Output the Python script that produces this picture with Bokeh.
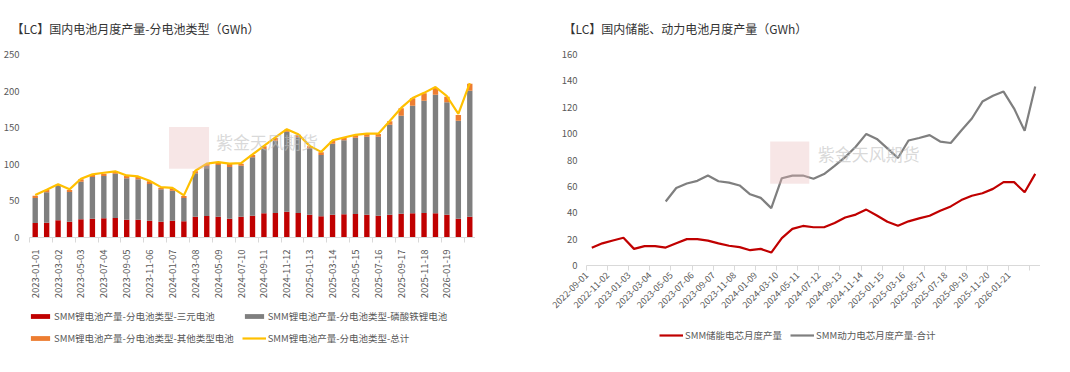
import math
from bokeh.plotting import figure
from bokeh.models import (FixedTicker, Legend, LegendItem, BoxAnnotation, Label,
                          ColumnDataSource, Range1d, Spacer)
from bokeh.layouts import row, column
from bokeh.embed import file_html
from bokeh.resources import INLINE

FONT = "Noto Sans CJK SC"
NaN = float("nan")

# ---------------- left chart data (GWh) ----------------
bar_months = ["2023-01", "2023-02", "2023-03", "2023-04", "2023-05", "2023-06", "2023-07", "2023-08",
              "2023-09", "2023-10", "2023-11", "2023-12", "2024-01", "2024-02", "2024-03", "2024-04",
              "2024-05", "2024-06", "2024-07", "2024-08", "2024-09", "2024-10", "2024-11", "2024-12",
              "2025-01", "2025-02", "2025-03", "2025-04", "2025-05", "2025-06", "2025-07", "2025-08",
              "2025-09", "2025-10", "2025-11", "2025-12", "2026-01", "2026-02", "2026-03"]
ncm = [19.8, 20.3, 23.4, 21.6, 24.8, 25.7, 26.2, 26.6, 24.4, 24.4, 23.0, 21.6, 23.0, 22.1, 28.5, 29.4,
       28.5, 25.7, 28.5, 29.8, 33.0, 33.5, 35.3, 33.5, 31.2, 28.9, 31.2, 31.6, 32.1, 31.2, 29.8, 31.2,
       32.6, 33.0, 33.5, 33.0, 31.2, 25.7, 28.5]
lfp = [34.2, 41.4, 47.0, 40.6, 51.5, 56.9, 57.8, 60.6, 56.4, 55.1, 50.1, 44.2, 41.0, 31.9, 59.2, 68.3,
       70.6, 70.6, 69.6, 79.7, 87.9, 98.8, 109.3, 103.3, 90.6, 83.8, 97.0, 101.1, 104.3, 106.5, 107.9, 122.9,
       133.8, 147.1, 153.4, 162.1, 153.5, 133.9, 172.1]
other = [3.2, 3.2, 1.8, 2.7, 3.2, 2.8, 3.2, 2.7, 3.2, 3.1, 3.6, 2.3, 3.2, 2.7, 2.7, 2.8,
         3.1, 4.2, 2.8, 3.2, 3.6, 3.6, 2.7, 3.7, 2.7, 3.6, 3.6, 3.2, 3.2, 3.7, 3.7, 4.6,
         10.1, 10.0, 10.0, 9.1, 7.7, 7.7, 9.5]
total = [58.2, 65.3, 72.8, 65.8, 80.2, 86.2, 88.5, 90.4, 84.8, 83.4, 77.5, 68.8, 67.9, 57.5, 91.2, 101.0,
         103.0, 101.0, 101.6, 113.4, 125.3, 136.7, 148.0, 141.0, 125.2, 117.0, 132.6, 136.6, 140.2, 141.8, 141.8, 159.2,
         177.0, 190.6, 197.6, 205.6, 193.0, 168.8, 211.0]
left_tick_labels = ["2023-01-01", "2023-03-02", "2023-05-03", "2023-07-04", "2023-09-05", "2023-11-06",
                    "2024-01-07", "2024-03-08", "2024-05-09", "2024-07-10", "2024-09-11", "2024-11-12",
                    "2025-01-13", "2025-03-14", "2025-05-15", "2025-07-16", "2025-09-17", "2025-11-18",
                    "2026-01-19"]
left_y_ticks = [0, 50, 100, 150, 200, 250]

# ---------------- right chart data (GWh) ----------------
line_months = ["2022-09", "2022-10", "2022-11", "2022-12", "2023-01", "2023-02", "2023-03", "2023-04",
               "2023-05", "2023-06", "2023-07", "2023-08", "2023-09", "2023-10", "2023-11", "2023-12",
               "2024-01", "2024-02", "2024-03", "2024-04", "2024-05", "2024-06", "2024-07", "2024-08",
               "2024-09", "2024-10", "2024-11", "2024-12", "2025-01", "2025-02", "2025-03", "2025-04",
               "2025-05", "2025-06", "2025-07", "2025-08", "2025-09", "2025-10", "2025-11", "2025-12",
               "2026-01", "2026-02", "2026-03"]
storage = [13.4, 16.8, 19.0, 21.0, 12.6, 14.7, 14.7, 13.6, 16.9, 20.0, 20.0, 18.9, 16.8, 15.0, 13.9, 11.6,
           12.6, 9.8, 20.8, 27.8, 30.0, 29.0, 29.0, 32.3, 36.4, 38.6, 42.4, 37.9, 33.2, 30.2, 33.5, 35.7,
           37.7, 41.5, 44.8, 49.6, 52.9, 54.8, 58.1, 63.2, 63.2, 55.6, 69.5]
power = [NaN, NaN, NaN, NaN, NaN, NaN, NaN, 48.5, 58.8, 62.2, 64.2, 68.2, 63.9, 62.8, 60.7, 54.0,
         51.3, 43.5, 66.2, 68.2, 68.2, 65.8, 69.3, 75.5, 82.2, 90.0, 99.8, 96.0, 88.8, 81.5, 94.8, 96.7,
         98.9, 94.0, 92.9, 102.4, 111.5, 124.3, 128.7, 131.9, 119.0, 102.1, 135.8]
right_tick_labels = ["2022-09-01", "2022-11-02", "2023-01-03", "2023-03-04", "2023-05-05", "2023-07-06",
                     "2023-09-07", "2023-11-08", "2024-01-09", "2024-03-10", "2024-05-11", "2024-07-12",
                     "2024-09-13", "2024-11-14", "2025-01-15", "2025-03-16", "2025-05-17", "2025-07-18",
                     "2025-09-19", "2025-11-20", "2026-01-21"]
right_y_ticks = [0, 20, 40, 60, 80, 100, 120, 140, 160]

left_legend_labels = ["SMM锂电池产量-分电池类型-三元电池", "SMM锂电池产量-分电池类型-磷酸铁锂电池",
                      "SMM锂电池产量-分电池类型-其他类型电池", "SMM锂电池产量-分电池类型-总计"]
right_legend_labels = ["SMM储能电芯月度产量", "SMM动力电芯月度产量-合计"]

C_RED = "#C00000"
C_GRAY = "#7F7F7F"
C_ORANGE = "#ED7D31"
C_GOLD = "#FFC000"
C_TEXT = "#595959"
C_AXIS = "#D9D9D9"


def style_common(p, yticks, title_offset):
    p.xgrid.visible = False
    p.ygrid.visible = False
    p.outline_line_color = None
    p.background_fill_color = "white"
    p.border_fill_color = "white"
    p.yaxis.ticker = FixedTicker(ticks=yticks)
    p.yaxis.axis_line_color = None
    p.yaxis.major_tick_line_color = None
    p.yaxis.minor_tick_line_color = None
    p.yaxis.major_tick_out = 0
    p.yaxis.major_tick_in = 0
    p.yaxis.major_label_text_font = FONT
    p.yaxis.major_label_text_font_size = "9.5px"
    p.yaxis.major_label_text_color = C_TEXT
    p.xaxis.axis_line_color = C_AXIS
    p.xaxis.major_label_text_font = FONT
    p.xaxis.major_label_text_font_size = "9.5px"
    p.xaxis.major_label_text_color = C_TEXT
    p.title.text_font = FONT
    p.title.text_font_size = "12px"
    p.title.text_font_style = "normal"
    p.title.text_color = "#333333"
    p.title.align = "left"
    p.title.offset = title_offset
    try:
        p.title.standoff = 35
    except Exception:
        pass


def legend_fig(width, height):
    f = figure(frame_width=width, frame_height=height, output_backend="svg", toolbar_location=None,
               x_range=Range1d(0, 1), y_range=Range1d(0, 1), min_border=0)
    f.axis.visible = False
    f.xgrid.visible = False
    f.ygrid.visible = False
    f.outline_line_color = None
    f.background_fill_color = "white"
    f.border_fill_color = "white"
    return f


def style_legend(leg):
    leg.label_text_font = FONT
    leg.label_text_font_size = "9.5px"
    leg.label_text_color = C_TEXT
    leg.glyph_width = 24
    leg.glyph_height = 6
    leg.label_standoff = 2
    leg.label_height = 14
    leg.spacing = 8
    leg.padding = 0
    leg.margin = 0
    leg.border_line_color = None
    leg.background_fill_alpha = 0


def proxy_src(ykey):
    # one empty (NaN) row so the legend can draw its glyph, nothing is drawn in the frame
    return ColumnDataSource({"x": [NaN], ykey: [NaN]})


# ================= LEFT =================
xs = list(range(len(bar_months)))
src = ColumnDataSource(dict(x=xs, ncm=ncm, lfp=lfp, other=other, total=total))

p1 = figure(frame_width=446, frame_height=183, output_backend="svg", toolbar_location=None,
            x_range=Range1d(-0.5, len(bar_months) - 0.5), y_range=Range1d(0, 250),
            min_border=0, title="【LC】国内电池月度产量-分电池类型（GWh）")
style_common(p1, left_y_ticks, -18)
p1.yaxis.major_label_standoff = 10

p1.vbar_stack(["ncm", "lfp", "other"], x="x", width=0.47, source=src,
              color=[C_RED, C_GRAY, C_ORANGE], line_color=None)
p1.line("x", "total", source=src, color=C_GOLD, line_width=2.2)

maj = [2 * k for k in range(len(left_tick_labels))]
mino = [2 * k - 0.5 for k in range(len(left_tick_labels) + 1)]
p1.xaxis.ticker = FixedTicker(ticks=maj, minor_ticks=mino)
p1.xaxis.major_label_overrides = {m: lab for m, lab in zip(maj, left_tick_labels)}
p1.xaxis.major_label_orientation = math.pi / 2
p1.xaxis.major_tick_in = 0
p1.xaxis.major_tick_out = 0
p1.xaxis.minor_tick_in = 0
p1.xaxis.minor_tick_out = 5
p1.xaxis.minor_tick_line_color = C_AXIS
p1.xaxis.major_label_standoff = 7

# watermark
p1.add_layout(BoxAnnotation(left=11.7, right=15.2, bottom=94, top=151, fill_color="#E9B8B8",
                            fill_alpha=0.35, line_color=None, level="overlay"))
p1.add_layout(Label(x=15.8, y=131.8, text="紫金天风期货", text_font=FONT, text_font_size="17px",
                    text_color="#BFBFBF", text_alpha=0.6, text_baseline="middle"))

# left legend (separate small canvas placed under the chart)
lf1 = legend_fig(440, 38)
r_a = lf1.vbar(x="x", top="top", width=0.5, source=proxy_src("top"), color=C_RED, line_color=None)
r_b = lf1.vbar(x="x", top="top", width=0.5, source=proxy_src("top"), color=C_GRAY, line_color=None)
r_c = lf1.vbar(x="x", top="top", width=0.5, source=proxy_src("top"), color=C_ORANGE, line_color=None)
r_d = lf1.line(x="x", y="y", source=proxy_src("y"), color=C_GOLD, line_width=2.2)
leg1 = Legend(items=[LegendItem(label=lab, renderers=[r]) for lab, r in
                     zip(left_legend_labels, [r_a, r_b, r_c, r_d])],
              orientation="horizontal", ncols=2, location="top_left")
style_legend(leg1)
lf1.add_layout(leg1)

# ================= RIGHT =================
xr = list(range(len(line_months)))
src2 = ColumnDataSource(dict(x=xr, storage=storage, power=power))
p2 = figure(frame_width=454, frame_height=211, output_backend="svg", toolbar_location=None,
            x_range=Range1d(-0.5, len(line_months) - 0.5), y_range=Range1d(0, 160),
            min_border=0, title="【LC】国内储能、动力电池月度产量（GWh）")
style_common(p2, right_y_ticks, -23)
p2.yaxis.major_label_standoff = 9
p2.yaxis.axis_label = " "
p2.yaxis.axis_label_text_font_size = "10px"
p2.yaxis.axis_label_standoff = 3

p2.line("x", "storage", source=src2, color=C_RED, line_width=2.2)
p2.line("x", "power", source=src2, color=C_GRAY, line_width=2.2)

rt = [2 * k - 0.5 for k in range(len(right_tick_labels) + 1)]
p2.xaxis.ticker = FixedTicker(ticks=rt)
ov = {t: "" for t in rt}
for t, lab in zip(rt, right_tick_labels):
    ov[t] = lab
p2.xaxis.major_label_overrides = ov
p2.xaxis.major_label_orientation = math.pi / 4
p2.xaxis.major_tick_in = 0
p2.xaxis.major_tick_out = 5
p2.xaxis.major_tick_line_color = C_AXIS
p2.xaxis.minor_tick_line_color = None
p2.xaxis.major_label_standoff = 3
p2.xaxis.major_label_text_font_size = "9px"

p2.add_layout(BoxAnnotation(left=16.9, right=20.6, bottom=62, top=94, fill_color="#E9B8B8",
                            fill_alpha=0.35, line_color=None, level="overlay"))
p2.add_layout(Label(x=21.4, y=84.7, text="紫金天风期货", text_font=FONT, text_font_size="17px",
                    text_color="#BFBFBF", text_alpha=0.6, text_baseline="middle"))

lf2 = legend_fig(300, 16)
r_e = lf2.line(x="x", y="y", source=proxy_src("y"), color=C_RED, line_width=2.2)
r_f = lf2.line(x="x", y="y", source=proxy_src("y"), color=C_GRAY, line_width=2.2)
leg2 = Legend(items=[LegendItem(label=lab, renderers=[r]) for lab, r in
                     zip(right_legend_labels, [r_e, r_f])],
              orientation="horizontal", location="top_left")
style_legend(leg2)
lf2.add_layout(leg2)

left_col = column(p1, Spacer(height=8), row(Spacer(width=28), lf1))
right_col = column(p2, Spacer(height=14), row(Spacer(width=118), lf2))
layout = row(left_col, Spacer(width=66), right_col)
open("out.html", "w").write(file_html(layout, INLINE))
